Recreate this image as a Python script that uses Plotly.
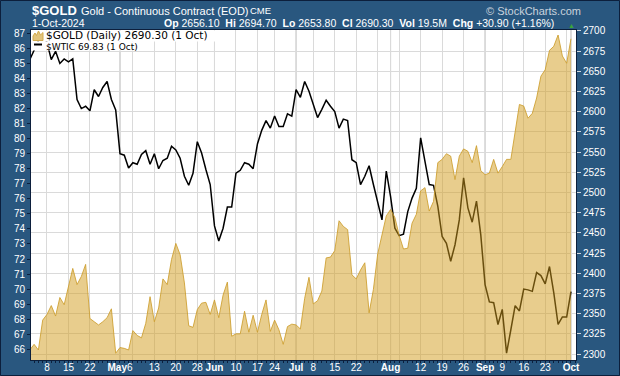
import plotly.graph_objects as go
import pandas as pd

# ---------------- data ----------------
HOLIDAYS = ["2024-05-27", "2024-06-19", "2024-07-04", "2024-09-02"]
dates = pd.bdate_range("2024-04-02", "2024-10-01", freq="C", holidays=HOLIDAYS)

wtic = [
    85.25, 85.9, 86.5, 86.9, 86.4, 85.25, 85.8, 85.0, 85.3, 85.1,
    85.3, 82.6, 82.0, 82.15, 81.85, 83.25, 82.8, 83.4, 83.8, 82.6,
    81.9, 79.0, 78.9, 78.05, 78.4, 78.3, 78.95, 79.2, 78.3, 79.0,
    78.0, 78.55, 78.7, 79.5, 79.25, 78.7, 77.5, 76.9, 77.7, 79.8,
    79.05, 77.95, 76.95, 74.2, 73.2, 74.05, 75.45, 75.45, 77.7, 77.9,
    78.4, 78.3, 78.0, 79.65, 80.55, 81.2, 80.7, 81.5, 80.8, 80.8,
    81.65, 81.5, 83.25, 82.75, 83.8, 83.15, 82.3, 81.4, 81.95, 82.55,
    82.15, 81.8, 80.7, 81.3, 81.2, 78.6, 78.4, 76.95, 77.5, 78.2,
    76.95, 75.7, 74.6, 77.85, 76.15, 74.05, 73.55, 73.65, 75.15, 76.05,
    76.7, 80.05, 78.5, 76.95, 76.9, 75.5, 73.5, 73.05, 71.85, 72.95,
    74.6, 77.4, 75.4, 74.45, 75.85, 73.6, 70.3, 69.15, 69.1, 67.65,
    68.65, 65.75, 67.3, 68.9, 68.55, 70.0, 69.95, 69.85, 71.1, 70.9,
    70.35, 71.5, 69.75, 67.65, 68.15, 68.15, 69.83,
]

gold = [
    2305, 2312, 2305, 2342, 2349, 2360, 2347, 2370, 2361, 2384,
    2406, 2386, 2396, 2411, 2344, 2340, 2336, 2340, 2345, 2356,
    2301, 2308, 2307, 2305, 2329, 2323, 2320, 2338, 2371, 2340,
    2357, 2393, 2386, 2417, 2437, 2423, 2388, 2335, 2333, 2355,
    2363, 2364, 2349, 2367, 2345, 2373, 2389, 2322, 2325, 2325,
    2353, 2327, 2348, 2327, 2349, 2367, 2328, 2342, 2330, 2312,
    2334, 2337, 2336, 2331, 2369, 2395, 2362, 2366, 2378, 2419,
    2420, 2428, 2465, 2458, 2454, 2398, 2393, 2404, 2413, 2351,
    2380, 2424, 2448, 2471, 2479, 2469, 2447, 2430, 2431, 2462,
    2473, 2502, 2506, 2477, 2489, 2537, 2541, 2548, 2545, 2516,
    2545, 2554, 2551, 2537, 2558, 2527, 2522, 2524, 2541, 2524,
    2532, 2541, 2541, 2578, 2609, 2607, 2592, 2598, 2617, 2644,
    2652, 2676, 2681, 2695, 2669, 2660, 2690.3,
]

tick_dates = ["2024-04-08", "2024-04-15", "2024-04-22", "2024-05-01", "2024-05-13",
              "2024-05-20", "2024-05-28", "2024-06-03", "2024-06-10", "2024-06-17",
              "2024-06-24", "2024-07-01", "2024-07-08", "2024-07-15", "2024-07-22",
              "2024-08-01", "2024-08-12", "2024-08-19", "2024-08-26", "2024-09-03",
              "2024-09-09", "2024-09-16", "2024-09-23", "2024-10-01"]
tick_labels = ["8", "15", "22", "<b>May</b>6", "13", "20", "28", "<b>Jun</b>", "10", "17",
               "24", "<b>Jul</b>", "8", "15", "22", "<b>Aug</b>", "12", "19", "26", "<b>Sep</b>",
               "9", "16", "23", "<b>Oct</b>"]
grid_only_dates = ["2024-05-06", "2024-07-29", "2024-08-05", "2024-09-30"]
month_dates = ["2024-05-01", "2024-06-03", "2024-07-01", "2024-08-01", "2024-09-03", "2024-10-01"]

# ---------------- styling ----------------
BLUE = "#29577f"
BORDER = "#0c1f3c"
GRID = "#dadada"
MONTHGRID = "#b4b4b4"
AXFONT = dict(family="Liberation Sans, Arial, sans-serif", size=10, color="white")

n = min(len(dates), len(wtic), len(gold))
pos = {d.strftime("%Y-%m-%d"): i for i, d in enumerate(dates)}
x = list(range(n))

tv = [pos[d] for d in tick_dates] + [pos[d] for d in grid_only_dates]
tt = tick_labels + [""] * len(grid_only_dates)

L, R, T, B = 31, 576, 30, 360


def px(v):
    return (v - L) / (R - L)


def py(v):
    return (B - v) / (B - T)


fig = go.Figure()
fig.add_trace(go.Scatter(x=x, y=wtic[:n], mode="lines", yaxis="y",
                         line=dict(color="black", width=1.5),
                         showlegend=False, hoverinfo="skip"))
fig.add_trace(go.Scatter(x=x, y=gold[:n], mode="lines", yaxis="y2",
                         fill="tozeroy", fillcolor="rgba(209,156,27,0.5)",
                         line=dict(color="rgba(204,158,45,0.85)", width=1),
                         showlegend=False, hoverinfo="skip"))

x0 = pos["2024-04-08"]
fig.update_layout(
    width=620, height=376, autosize=False,
    margin=dict(l=L, r=620 - R, t=T, b=376 - B, pad=0),
    paper_bgcolor=BLUE, plot_bgcolor="white",
    showlegend=False,
    xaxis=dict(range=[x0 - 3.72, x0 + 123.17], tickmode="array", tickvals=tv, ticktext=tt,
               tickangle=0, automargin=False, showgrid=True, gridcolor=GRID, gridwidth=1,
               zeroline=False, showline=True, linecolor=BORDER, linewidth=1, mirror=True,
               ticks="outside", ticklen=2, tickcolor=BORDER, tickfont=AXFONT,
               ticklabelstandoff=-4,
               minor=dict(dtick=1, tick0=0, ticks="outside", ticklen=2, tickcolor=BORDER,
                          showgrid=False)),
    yaxis=dict(range=[65.29, 87.22], tickmode="linear", tick0=0, dtick=1, automargin=False,
               showgrid=False, zeroline=False, showline=True, linecolor=BORDER,
               linewidth=1, mirror=True, ticks="outside", ticklen=3, tickcolor=BORDER,
               tickfont=AXFONT),
    yaxis2=dict(range=[2292.6, 2701.2], overlaying="y", side="right", tickmode="linear",
                tick0=0, dtick=25, automargin=False, showgrid=True, gridcolor=GRID, gridwidth=1,
                zeroline=False, showline=False, ticks="outside", ticklen=4,
                tickcolor="#d0d8e0", tickfont=AXFONT),
)

shapes = []
for d in month_dates:
    shapes.append(dict(type="line", xref="x", yref="paper", x0=pos[d], x1=pos[d], y0=0, y1=1,
                       line=dict(color=MONTHGRID, width=1), layer="between"))
# legend backgrounds
shapes.append(dict(type="rect", xref="paper", yref="paper", x0=px(31.5), x1=px(215),
                   y0=py(41.5), y1=py(30.5), fillcolor="white", line=dict(width=0), layer="above"))
shapes.append(dict(type="rect", xref="paper", yref="paper", x0=px(31.5), x1=px(139),
                   y0=py(50.5), y1=py(41.5), fillcolor="white", line=dict(width=0), layer="above"))
# gold legend icon
icon = [(33, 40.5), (33, 36), (35, 33), (36.5, 35.5), (38.5, 31), (40.5, 35), (43, 32.5), (43, 40.5)]
path = "M " + " L ".join(f"{px(a):.5f},{py(b):.5f}" for a, b in icon) + " Z"
shapes.append(dict(type="path", xref="paper", yref="paper", path=path,
                   fillcolor="#e2c47c", line=dict(color="#d2aa4c", width=1), layer="above"))
# wtic legend icon
shapes.append(dict(type="line", xref="paper", yref="paper", x0=px(34), x1=px(42),
                   y0=py(44.5), y1=py(44.5), line=dict(color="black", width=2), layer="above"))
# outer frame
shapes.append(dict(type="rect", xref="paper", yref="paper", x0=px(0.5), x1=px(619.5),
                   y0=py(375.5), y1=py(0.5), line=dict(color=BORDER, width=1), layer="above"))
fig.update_layout(shapes=shapes)

HF = "Liberation Sans, Arial, sans-serif"


def ann(text, xp, yp, size, color="white", family=HF, anchor="left"):
    fig.add_annotation(text=text, xref="paper", yref="paper", x=px(xp), y=py(yp),
                       xanchor=anchor, yanchor="middle", showarrow=False,
                       font=dict(family=family, size=size, color=color))


ann("<b>$GOLD</b>", 30, 10, 13)
ann("Gold - Continuous Contract (EOD)", 79, 10.5, 11)
ann("CME", 248, 11, 9.5)
ann("\u00a9 StockCharts.com", 484, 10.5, 11, color="#c9d3dd")
ann("1-Oct-2024", 30, 23.5, 10.5)
ann("<b>Op</b> 2656.10 \u00a0<b>Hi</b> 2694.70 \u00a0<b>Lo</b> 2653.80 \u00a0<b>Cl</b> 2690.30 "
    "\u00a0<b>Vol</b> 19.5M \u00a0<b>Chg</b> +30.90 (+1.16%)", 162, 23.5, 10.5)
ann("\u25b2", 571, 25, 7, color="#3aa53a", anchor="center")
ann("$GOLD (Daily) 2690.30 (1 Oct)", 44, 35, 10.5, color="black", family="DejaVu Sans, Verdana, sans-serif")
ann("$WTIC 69.83 (1 Oct)", 43.5, 46.5, 9, color="black", family="DejaVu Sans, Verdana, sans-serif")

fig.write_html(
    "out.html",
    config={"displayModeBar": False},
    post_script="document.body.style.margin='0';document.body.style.overflow='hidden';",
)
